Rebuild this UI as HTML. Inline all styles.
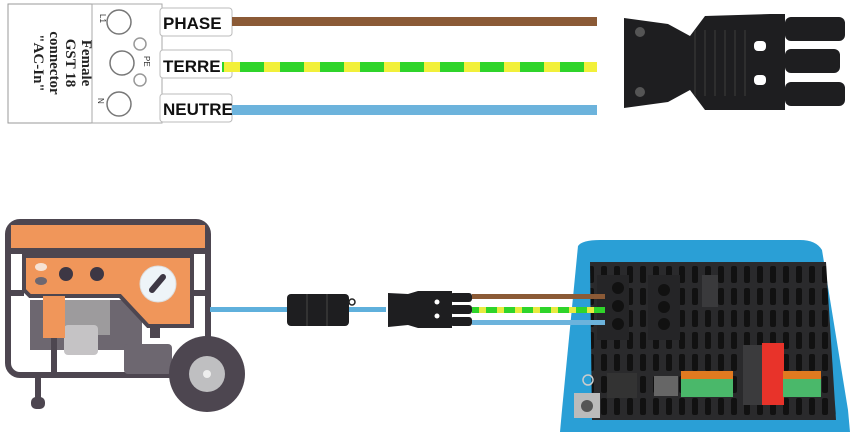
<!DOCTYPE html>
<html><head><meta charset="utf-8"><style>
html,body{margin:0;padding:0;background:#fff;width:862px;height:432px;overflow:hidden}
svg{display:block}
</style></head><body>
<svg width="862" height="432" viewBox="0 0 862 432" xmlns="http://www.w3.org/2000/svg">
<defs>
<pattern id="gy" x="0" y="0" width="40" height="10" patternUnits="userSpaceOnUse">
<rect width="40" height="10" fill="#f2f03a"/><rect width="24" height="10" fill="#2fd42a"/>
</pattern>
<pattern id="gy2" x="0" y="0" width="18" height="10" patternUnits="userSpaceOnUse">
<rect width="18" height="10" fill="#e8ea40"/><rect width="11" height="10" fill="#2fd42a"/>
</pattern>
<pattern id="vent" x="0" y="0" width="13" height="22" patternUnits="userSpaceOnUse">
<rect width="13" height="22" fill="#2a2a2c"/><rect x="3" y="2" width="6" height="17" rx="2" fill="#111"/>
</pattern>
</defs>

<!-- top label -->
<rect x="8" y="4" width="92" height="119" fill="#fff" stroke="#999" stroke-width="1"/>
<g transform="translate(54,63) rotate(90)" font-family="Liberation Serif, serif" font-weight="bold" font-size="15" fill="#222" text-anchor="middle">
<text x="0" y="-28">Female</text>
<text x="0" y="-12">GST 18</text>
<text x="0" y="4">connector</text>
<text x="0" y="20">"AC-In"</text>
</g>
<rect x="92" y="4" width="70" height="119" fill="#fff" stroke="#aaa"/>
<circle cx="119" cy="22" r="12" fill="#fff" stroke="#777" stroke-width="1.5"/>
<circle cx="122" cy="63" r="12" fill="#fff" stroke="#777" stroke-width="1.5"/>
<circle cx="119" cy="104" r="12" fill="#fff" stroke="#777" stroke-width="1.5"/>
<circle cx="140" cy="44" r="6" fill="none" stroke="#999" stroke-width="1.5"/>
<circle cx="140" cy="80" r="6" fill="none" stroke="#999" stroke-width="1.5"/>
<text x="100" y="14" font-family="Liberation Sans,sans-serif" font-size="8" transform="rotate(90 100 14)" fill="#333">L1</text>
<text x="144" y="56" font-family="Liberation Sans,sans-serif" font-size="8" transform="rotate(90 144 56)" fill="#333">PE</text>
<text x="98" y="98" font-family="Liberation Sans,sans-serif" font-size="8" transform="rotate(90 98 98)" fill="#333">N</text>
<rect x="160" y="8" width="72" height="28" rx="3" fill="#fff" stroke="#bbb"/>
<rect x="160" y="50" width="72" height="28" rx="3" fill="#fff" stroke="#bbb"/>
<rect x="160" y="94" width="72" height="28" rx="3" fill="#fff" stroke="#bbb"/>
<g font-family="Liberation Sans,sans-serif" font-weight="bold" font-size="17" fill="#111">
<text x="163" y="29">PHASE</text>
<text x="163" y="72">TERRE</text>
<text x="163" y="115">NEUTRE</text>
</g>
<rect x="232" y="17" width="365" height="9" fill="#8b5a36"/>
<rect x="222" y="62" width="375" height="10" fill="url(#gy)"/>
<rect x="232" y="105" width="365" height="10" fill="#6cb3dc"/>

<!-- top right connector -->
<g fill="#1e1e20">
<path d="M624 18 L668 24 L690 36 L705 16 L770 14 L785 14 L785 110 L705 110 L690 90 L668 102 L624 108 Z"/>
<rect x="785" y="17" width="60" height="24" rx="6"/>
<rect x="785" y="49" width="55" height="24" rx="6"/>
<rect x="785" y="82" width="60" height="24" rx="6"/>
</g>
<circle cx="640" cy="32" r="5" fill="#555"/><circle cx="640" cy="92" r="5" fill="#555"/>
<g stroke="#333" stroke-width="1.5">
<line x1="695" y1="30" x2="695" y2="96"/><line x1="705" y1="30" x2="705" y2="96"/><line x1="715" y1="30" x2="715" y2="96"/><line x1="725" y1="30" x2="725" y2="96"/><line x1="735" y1="30" x2="735" y2="96"/><line x1="745" y1="30" x2="745" y2="96"/>
</g>
<rect x="754" y="41" width="12" height="10" rx="4" fill="#fff"/>
<rect x="754" y="75" width="12" height="10" rx="4" fill="#fff"/>

<!-- generator -->
<rect x="8" y="222" width="200" height="153" rx="12" fill="none" stroke="#4d4650" stroke-width="6"/>
<rect x="11" y="225" width="194" height="25" fill="#f0965a"/>
<rect x="8" y="248" width="200" height="6" fill="#4d4650"/>
<rect x="10" y="290" width="14" height="6" fill="#4d4650"/>
<rect x="192" y="290" width="16" height="6" fill="#4d4650"/>
<rect x="30" y="300" width="112" height="50" fill="#6d6770"/>
<rect x="65" y="300" width="45" height="35" fill="#9d9b9d"/>
<rect x="64" y="325" width="34" height="30" rx="4" fill="#c5c3c5"/>
<path d="M24 256 L192 256 L192 326 L148 326 L120 296 L30 296 L24 290 Z" fill="#f0965a" stroke="#4d4650" stroke-width="4"/>
<rect x="43" y="296" width="22" height="42" fill="#f0965a"/>
<ellipse cx="41" cy="267" rx="6" ry="4" fill="#f6e2d4"/>
<ellipse cx="41" cy="281" rx="6" ry="4" fill="#6d6770"/>
<circle cx="66" cy="274" r="7" fill="#3d3744"/>
<circle cx="97" cy="274" r="7" fill="#3d3744"/>
<circle cx="158" cy="284" r="18" fill="#eef4f8" stroke="#ddd"/>
<line x1="152" y1="290" x2="163" y2="277" stroke="#3d3744" stroke-width="6" stroke-linecap="round"/>
<rect x="51" y="338" width="6" height="37" fill="#4d4650"/>
<rect x="150" y="326" width="10" height="12" fill="#4d4650"/>
<rect x="124" y="344" width="48" height="30" rx="4" fill="#6d6770"/>
<rect x="35" y="375" width="6" height="25" fill="#4d4650"/>
<rect x="31" y="397" width="14" height="12" rx="5" fill="#4d4650"/>
<circle cx="207" cy="374" r="38" fill="#4d4650"/>
<circle cx="207" cy="374" r="18" fill="#bfbfc1"/>
<circle cx="207" cy="374" r="4" fill="#eee"/>

<!-- lower wires -->
<rect x="210" y="307" width="176" height="5" fill="#5fb0dc"/>
<rect x="287" y="294" width="62" height="32" rx="4" fill="#1e1e20"/>
<line x1="307" y1="294" x2="307" y2="326" stroke="#333" stroke-width="2"/>
<line x1="327" y1="294" x2="327" y2="326" stroke="#333" stroke-width="2"/>
<circle cx="352" cy="302" r="3" fill="none" stroke="#222" stroke-width="1.5"/>
<path d="M388 293 L408 294 L418 291 L452 291 L452 328 L418 328 L408 325 L388 327 Z" fill="#1e1e20"/>
<rect x="450" y="293" width="22" height="9" rx="3" fill="#1e1e20"/>
<rect x="450" y="305" width="22" height="9" rx="3" fill="#1e1e20"/>
<rect x="450" y="317" width="22" height="9" rx="3" fill="#1e1e20"/>
<circle cx="437" cy="302" r="2.5" fill="#fff"/><circle cx="437" cy="316" r="2.5" fill="#fff"/>
<rect x="472" y="294" width="131" height="5" fill="#8b5a36"/>
<rect x="472" y="307" width="131" height="6" fill="url(#gy2)"/>
<rect x="472" y="320" width="131" height="5" fill="#6cb3dc"/>

<!-- inverter -->
<path d="M578 246 Q582 240 600 240 L800 240 Q816 240 822 250 L848 410 L850 432 L560 432 L562 410 Z" fill="#2a9fd6"/>
<path d="M590 262 L826 262 L836 420 L592 420 Z" fill="url(#vent)"/>
<rect x="597" y="275" width="32" height="65" fill="#252527"/>
<circle cx="618" cy="288" r="6" fill="#111"/><circle cx="618" cy="306" r="6" fill="#111"/><circle cx="618" cy="324" r="6" fill="#111"/>
<rect x="472" y="294" width="133" height="5" fill="#8b5a36"/>
<rect x="560" y="307" width="45" height="6" fill="url(#gy2)"/>
<rect x="560" y="320" width="45" height="5" fill="#6cb3dc"/>
<rect x="648" y="275" width="32" height="65" fill="#252527"/>
<circle cx="664" cy="290" r="6" fill="#111"/><circle cx="664" cy="307" r="6" fill="#111"/><circle cx="664" cy="324" r="6" fill="#111"/>
<rect x="702" y="275" width="16" height="32" fill="#3a3a3c"/>
<rect x="607" y="373" width="30" height="25" fill="#333"/>
<rect x="654" y="376" width="24" height="20" fill="#666"/>
<rect x="681" y="371" width="52" height="8" fill="#e07a20"/>
<rect x="681" y="379" width="52" height="18" fill="#4ab86a"/>
<rect x="743" y="345" width="24" height="60" fill="#3b3b3d"/>
<rect x="762" y="343" width="22" height="62" fill="#e8332a"/>
<rect x="783" y="371" width="38" height="8" fill="#e07a20"/>
<rect x="783" y="379" width="38" height="18" fill="#4ab86a"/>
<rect x="574" y="393" width="26" height="25" fill="#bbb"/>
<circle cx="587" cy="406" r="6" fill="#555"/>
<circle cx="588" cy="380" r="5" fill="none" stroke="#ccc" stroke-width="1.5"/>
</svg>
</body></html>
